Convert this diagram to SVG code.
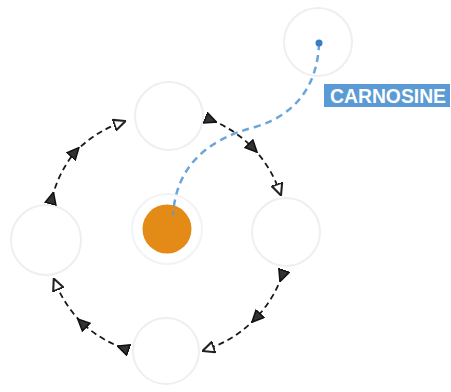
<svg xmlns="http://www.w3.org/2000/svg" width="451" height="392" viewBox="0 0 451 392">
<style>
.node{fill:#fff;stroke:#efefef;stroke-width:2}
.cyc{fill:none;stroke:#1a1a1a;stroke-width:1.8;stroke-dasharray:6 4;marker-start:url(#ah);marker-mid:url(#ah);marker-end:url(#ah2)}
.lbl{font-family:"Liberation Sans",Arial,sans-serif;font-weight:bold;font-size:20px;fill:#fff}
</style>
<defs>
<marker id="ah" viewBox="0 0 10 10" refX="5" refY="5" markerWidth="13" markerHeight="13" markerUnits="userSpaceOnUse" orient="auto">
<path d="M0.5,0.8 L9.5,5 L0.5,9.2 z" fill="#333" stroke="#111" stroke-width="1.2"/>
</marker>
<marker id="ah2" viewBox="0 0 10 10" refX="5" refY="5" markerWidth="13" markerHeight="13" markerUnits="userSpaceOnUse" orient="auto">
<path d="M0.5,0.8 L9.5,5 L0.5,9.2 z" fill="#fff" stroke="#222" stroke-width="1.6"/>
</marker>
</defs>
<rect width="451" height="392" fill="#fff"/>
<g id="node-top"><circle class="node" cx="169" cy="116" r="34"/></g>
<g id="node-right"><circle class="node" cx="286" cy="232" r="34"/></g>
<g id="node-bottom"><circle class="node" cx="166" cy="351" r="33"/></g>
<g id="node-left"><circle class="node" cx="46" cy="240" r="35"/></g>
<g id="node-topright"><circle class="node" cx="318" cy="42" r="34"/></g>
<g id="node-center"><circle cx="167" cy="229" r="35" fill="none" stroke="#f1f3f6" stroke-width="2"/><circle cx="167" cy="229" r="24.5" fill="#e38b16"/></g>
<g id="connectors">
<path class="cyc" d="M211,120 A120,120 0 0 1 253,148 A120,120 0 0 1 279,190"/>
<path class="cyc" d="M282,276 A120,120 0 0 1 256,318 A120,120 0 0 1 208,349"/>
<path class="cyc" d="M123,348 A120,120 0 0 1 82,323 A120,120 0 0 1 56,284"/>
<path class="cyc" d="M52,198 A120,120 0 0 1 75,152 A120,120 0 0 1 120,123"/>
<path d="M319,43 C318,80 300,114 255,127 C205,140 176,168 173,215" fill="none" stroke="#5b9bd5" stroke-width="2.5" stroke-dasharray="7 5" opacity="0.9"/>
<circle cx="319" cy="43" r="3.5" fill="#3b7bbf"/>
</g>
<g id="label-carnosine"><rect x="324" y="84" width="126" height="23" fill="#5b9bd5"/><text class="lbl" x="330" y="103" textLength="116" lengthAdjust="spacingAndGlyphs">CARNOSINE</text></g>
</svg>
